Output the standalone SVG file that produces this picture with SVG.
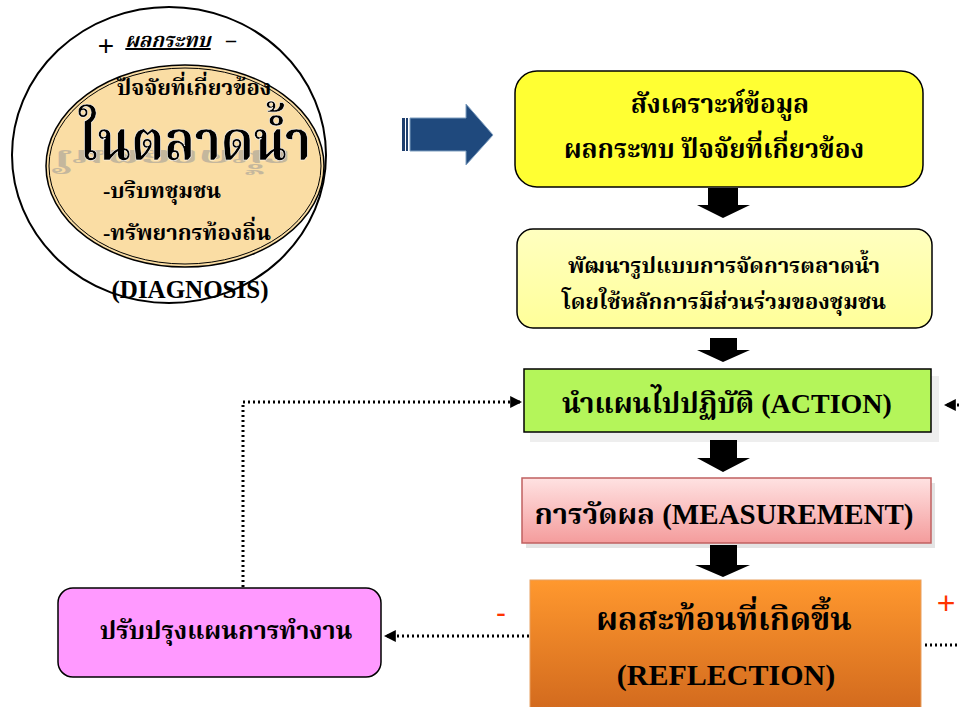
<svg xmlns="http://www.w3.org/2000/svg" width="959" height="707" viewBox="0 0 959 707">
<defs>
<style>
.t{font-family:"Liberation Serif","Noto Serif Thai","Noto Sans Thai",serif;font-weight:bold;fill:#000;text-anchor:middle}
.dot{fill:none;stroke:#000;stroke-width:3;stroke-dasharray:2 3}
.blk{fill:#000}
</style>
<linearGradient id="gPink" x1="0" y1="0" x2="0" y2="1"><stop offset="0" stop-color="#FFE2E2"/><stop offset="1" stop-color="#F49C9C"/></linearGradient>
<linearGradient id="gOr" x1="0" y1="0" x2="0" y2="1"><stop offset="0" stop-color="#FF982E"/><stop offset="1" stop-color="#D26A1E"/></linearGradient>
<linearGradient id="gLy" x1="0" y1="0" x2="0" y2="1"><stop offset="0" stop-color="#FFFFC0"/><stop offset="1" stop-color="#FFFF99"/></linearGradient>
<marker id="ah" viewBox="0 0 10 10" refX="9" refY="5" markerWidth="4" markerHeight="4" orient="auto"><path d="M0,0 L10,5 L0,10 z" fill="#000"/></marker>
</defs>
<rect width="959" height="707" fill="#fff"/>

<g id="diagnosis">
<ellipse cx="169" cy="155" rx="157" ry="148" fill="#fff" stroke="#000" stroke-width="2"/>
<ellipse cx="185" cy="166" rx="139" ry="101" fill="#FADDA4" stroke="#000" stroke-width="1.5"/>
<ellipse cx="185" cy="166" rx="136" ry="98" fill="none" stroke="#000" stroke-width="1"/>
<text x="106" y="55" font-family="Liberation Sans,sans-serif" font-size="28" text-anchor="middle">+</text>
<text x="168" y="47" class="t" style="font-style:italic;text-decoration:underline" font-size="20">ผลกระทบ</text>
<text x="231" y="47" class="t" font-size="20">–</text>
<text x="194" y="95" class="t" font-size="22">ปัจจัยที่เกี่ยวข้อง</text>
<text x="172" y="160" class="t" font-size="56" textLength="238" lengthAdjust="spacingAndGlyphs" transform="translate(0,150) scale(1,-0.42) translate(0,-160)" style="fill:#999;opacity:0.55">ในตลาดน้ำ</text>
<text x="195" y="160" class="t" font-size="56" textLength="232" lengthAdjust="spacingAndGlyphs" stroke="#fff" stroke-width="0.6">ในตลาดน้ำ</text>
<text x="103" y="198" class="t" font-size="22" style="text-anchor:start">-บริบทชุมชน</text>
<text x="103" y="240" class="t" font-size="22" style="text-anchor:start">-ทรัพยากรท้องถิ่น</text>
<text x="190" y="298" class="t" font-size="25">(DIAGNOSIS)</text>
</g>

<g id="bigArrow">
<rect x="402" y="118" width="3" height="33" fill="#1F3F6E"/>
<rect x="406" y="118" width="2" height="33" fill="#1F3F6E"/>
<path d="M410,118 H466 V104 L493,135 L466,165 V151 H410 Z" fill="#1F497D" stroke="#7F9FC0" stroke-width="1"/>
</g>

<g id="synth">
<rect x="515" y="71" width="408" height="116" rx="22" fill="#FFFF33" stroke="#000" stroke-width="1.5"/>
<text x="720" y="113" class="t" font-size="26">สังเคราะห์ข้อมูล</text>
<text x="714" y="158" class="t" font-size="26">ผลกระทบ ปัจจัยที่เกี่ยวข้อง</text>
</g>

<g id="develop">
<rect x="517" y="229" width="415" height="99" rx="16" fill="url(#gLy)" stroke="#000" stroke-width="1.5"/>
<text x="724" y="273" class="t" font-size="22">พัฒนารูปแบบการจัดการตลาดน้ำ</text>
<text x="724" y="309" class="t" font-size="22">โดยใช้หลักการมีส่วนร่วมของชุมชน</text>
</g>

<g id="action">
<rect x="530" y="376" width="409" height="66" fill="#EEEEEE"/>
<rect x="524" y="369" width="407" height="63" fill="#B4F55A" stroke="#000" stroke-width="1.5"/>
<text x="727" y="413" class="t" font-size="28">นำแผนไปปฏิบัติ (ACTION)</text>
</g>

<g id="measure">
<rect x="526" y="483" width="409" height="65" fill="#E4E4E4"/>
<rect x="522" y="478" width="409" height="65" fill="url(#gPink)" stroke="#C06060" stroke-width="1.5"/>
<text x="724" y="524" class="t" font-size="29">การวัดผล (MEASUREMENT)</text>
</g>

<g id="reflection">
<rect x="530" y="580" width="391" height="130" fill="url(#gOr)" stroke="#E8A060" stroke-width="1"/>
<text x="724" y="630" class="t" font-size="32">ผลสะท้อนที่เกิดขึ้น</text>
<text x="726" y="685" class="t" font-size="30">(REFLECTION)</text>
<text x="501" y="623" font-family="Liberation Sans,sans-serif" font-size="30" fill="#FF3300" text-anchor="middle">-</text>
<text x="946" y="614" font-family="Liberation Sans,sans-serif" font-size="32" fill="#FF3300" text-anchor="middle">+</text>
</g>

<g id="improve">
<rect x="58" y="588" width="323" height="89" rx="15" fill="#FF99FF" stroke="#000" stroke-width="1.5"/>
<text x="226" y="639" class="t" font-size="25">ปรับปรุงแผนการทำงาน</text>
</g>

<g id="connectors">
<path d="M708,188 H738 V205 H750 L723,218 L697,205 H708 Z" class="blk"/>
<path d="M710,338 H737 V350 H750 L723,362 L697,350 H710 Z" class="blk"/>
<path d="M710,440 H737 V458 H750 L723,472 L697,458 H710 Z" class="blk"/>
<path d="M710,545 H737 V565 H750 L723,577 L695,565 H710 Z" class="blk"/>
<path d="M529,636 H385" class="dot" marker-end="url(#ah)"/>
<path d="M243,587 V402 H521" class="dot" marker-end="url(#ah)"/>
<path d="M959,405 H945" class="dot" marker-end="url(#ah)"/>
<path d="M925,645 H959" class="dot"/>
</g>
</svg>
